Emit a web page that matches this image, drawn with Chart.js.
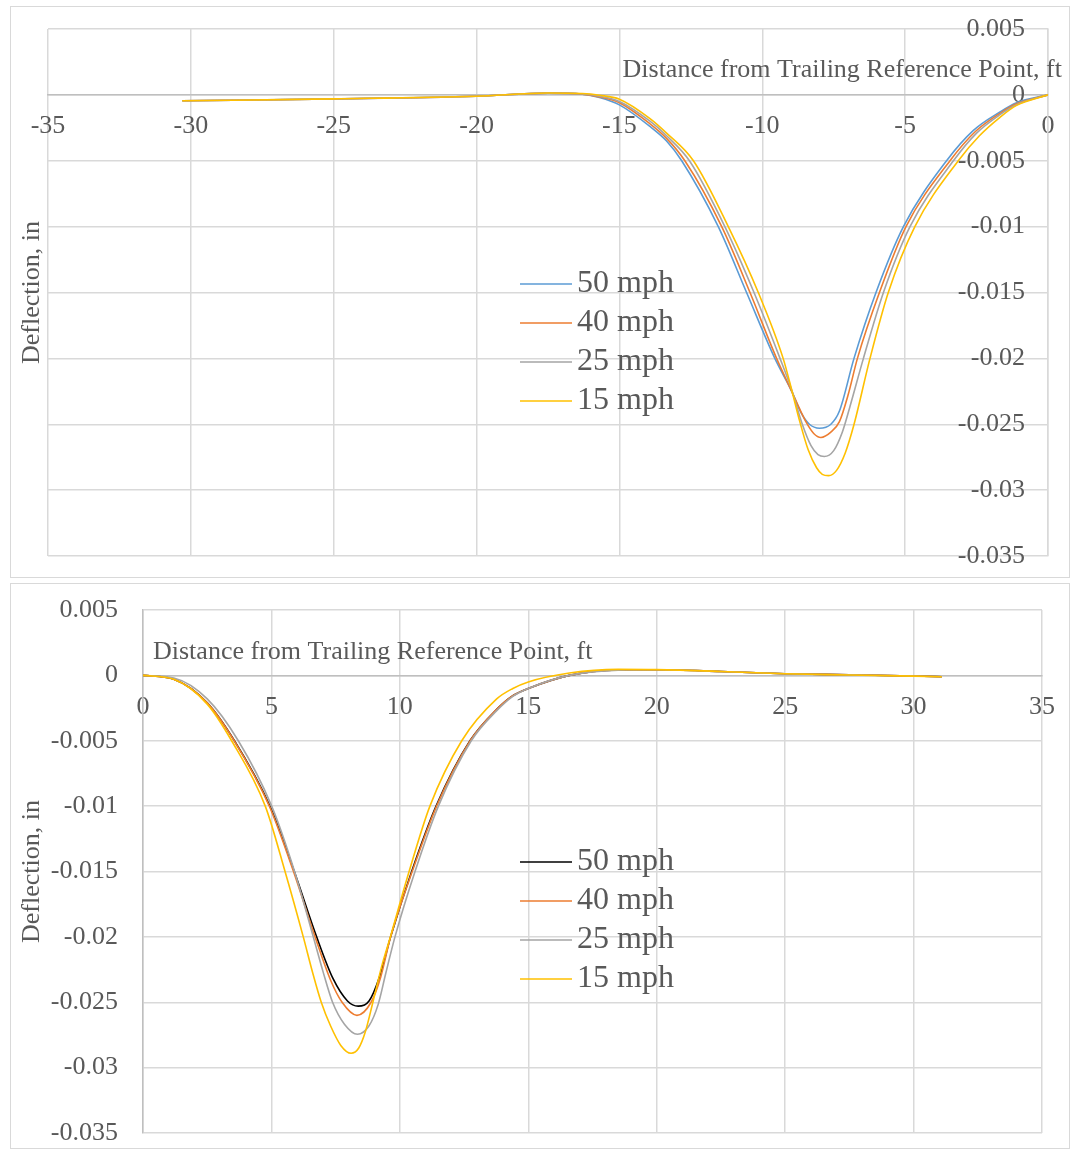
<!DOCTYPE html>
<html>
<head>
<meta charset="utf-8">
<script src="https://cdn.jsdelivr.net/npm/chart.js@4.4.1/dist/chart.umd.min.js"></script>
<style>
  html, body { margin: 0; padding: 0; background: #fff; overflow: hidden; }
  .frame { position: absolute; left: 10px; width: 1058px; border: 1px solid #d9d9d9; }
  #topFrame { top: 6px; height: 570px; }
  #bottomFrame { top: 583px; height: 564px; }
</style>
</head>
<body>
<div class="frame" id="topFrame"><canvas id="top"></canvas></div>
<div class="frame" id="bottomFrame"><canvas id="bottom"></canvas></div>
<script>
const xTitle = 'Distance from Trailing Reference Point, ft';
const yTitle = 'Deflection, in';
const speeds = ['50 mph', '40 mph', '25 mph', '15 mph'];
const topColors = ['#5B9BD5', '#ED7D31', '#A5A5A5', '#FFC000'];
const bottomColors = ['#000000', '#ED7D31', '#A5A5A5', '#FFC000'];
const topXTicks = [-35, -30, -25, -20, -15, -10, -5, 0];
const bottomXTicks = [0, 5, 10, 15, 20, 25, 30, 35];
const yTicks = [0.005, 0, -0.005, -0.01, -0.015, -0.02, -0.025, -0.03, -0.035];

// upper chart: [distance ft, deflection in]
const top50 = [[-30.3,-0.00045],[-25,-0.00031],[-20,-0.0001],[-17.5,0.00013],[-16.3,0.00005],[-15.7,-0.0002],[-15,-0.00076],[-13.93,-0.0024],[-13.35,-0.0035],[-12.82,-0.005],[-11.54,-0.01],[-10.55,-0.015],[-9.56,-0.02],[-8.97,-0.0225],[-8.65,-0.0241],[-8.35,-0.025],[-8.0,-0.0253],[-7.6,-0.025],[-7.3,-0.024],[-6.79,-0.02],[-6.02,-0.015],[-5.06,-0.01],[-3.55,-0.005],[-2.61,-0.0027],[-1.68,-0.0013],[-1.1,-0.0006],[0,0]];
const top40 = [[-30.3,-0.00045],[-25,-0.00031],[-20,-0.0001],[-17.5,0.00013],[-16.3,0.00006],[-15.7,-0.00015],[-15,-0.0006],[-13.93,-0.0022],[-13.35,-0.0033],[-12.71,-0.005],[-11.42,-0.01],[-10.43,-0.015],[-9.5,-0.02],[-8.97,-0.0225],[-8.7,-0.0238],[-8.45,-0.0249],[-8.2,-0.0257],[-7.95,-0.026],[-7.6,-0.0256],[-7.3,-0.0248],[-7.0,-0.0228],[-6.67,-0.02],[-5.9,-0.015],[-4.97,-0.01],[-3.43,-0.005],[-2.55,-0.0028],[-1.68,-0.0014],[-1.1,-0.00068],[0,0]];
const top25 = [[-30.3,-0.00045],[-25,-0.0003],[-20,-0.0001],[-17.5,0.00013],[-16.3,0.00007],[-15.7,-0.0001],[-15,-0.0005],[-13.93,-0.002],[-13.35,-0.0031],[-12.55,-0.005],[-11.31,-0.01],[-10.29,-0.015],[-9.38,-0.02],[-8.97,-0.0224],[-8.6,-0.025],[-8.3,-0.0266],[-8.05,-0.0273],[-7.83,-0.02745],[-7.5,-0.027],[-7.2,-0.0256],[-6.95,-0.0238],[-6.46,-0.02],[-5.76,-0.015],[-4.83,-0.01],[-3.31,-0.005],[-2.5,-0.0029],[-1.68,-0.0015],[-1.1,-0.00075],[0,0]];
const top15 = [[-30.3,-0.00045],[-25,-0.0003],[-20,-0.0001],[-17.5,0.00014],[-16.3,0.0001],[-15.7,-0.00003],[-15,-0.00033],[-13.93,-0.0018],[-13.35,-0.0029],[-12.41,-0.005],[-11.19,-0.01],[-10.14,-0.015],[-9.27,-0.02],[-8.97,-0.0224],[-8.7,-0.0247],[-8.4,-0.0269],[-8.1,-0.0283],[-7.9,-0.0288],[-7.68,-0.0289],[-7.4,-0.0285],[-7.1,-0.0272],[-6.8,-0.0251],[-6.23,-0.02],[-5.59,-0.015],[-4.66,-0.01],[-3.14,-0.005],[-2.4,-0.0031],[-1.68,-0.0017],[-1.1,-0.0008],[0,0]];

// lower chart
const bot50 = [[0,0],[1.2,-0.0003],[2.5,-0.0021],[3.56,-0.005],[4.94,-0.01],[5.89,-0.015],[6.76,-0.02],[7.4,-0.0232],[7.96,-0.0249],[8.38,-0.0253],[8.8,-0.0249],[9.2,-0.0231],[9.64,-0.02],[10.46,-0.015],[11.41,-0.01],[12.73,-0.005],[13.77,-0.0026],[14.4,-0.00155],[15,-0.001],[16.6,0],[18.5,0.00042],[20,0.00043],[22.5,0.0003],[25,0.00013],[27.5,0.00005],[30,-0.00005],[31.1,-0.0001]];
const bot40 = [[0,0],[1.2,-0.0003],[2.5,-0.0021],[3.55,-0.005],[4.92,-0.01],[5.86,-0.015],[6.7,-0.02],[7.3,-0.0233],[7.75,-0.025],[8.33,-0.026],[8.88,-0.025],[9.25,-0.0231],[9.64,-0.02],[10.48,-0.015],[11.43,-0.01],[12.74,-0.005],[13.77,-0.0026],[14.4,-0.00155],[15,-0.001],[16.6,0],[18.5,0.00042],[20,0.00043],[22.5,0.0003],[25,0.00013],[27.5,0.00005],[30,-0.00005],[31.1,-0.0001]];
const bot25 = [[0,0],[1.2,-0.0002],[2.5,-0.0018],[3.71,-0.005],[5.01,-0.01],[5.9,-0.015],[6.63,-0.02],[7.0,-0.0226],[7.38,-0.025],[7.85,-0.0267],[8.35,-0.02745],[8.8,-0.0268],[9.15,-0.0252],[9.45,-0.0228],[9.81,-0.02],[10.59,-0.015],[11.5,-0.01],[12.78,-0.005],[13.77,-0.0027],[14.4,-0.0016],[15,-0.001],[16.6,0],[18.5,0.0004],[20,0.00043],[22.5,0.0003],[25,0.00013],[27.5,0.00004],[30,-0.00005],[31.1,-0.0001]];
const bot15 = [[0,0],[1.2,-0.0003],[2.5,-0.0022],[3.45,-0.005],[4.76,-0.01],[5.53,-0.015],[6.24,-0.02],[6.6,-0.0227],[6.94,-0.025],[7.3,-0.0268],[7.7,-0.0283],[8.1,-0.0289],[8.4,-0.0285],[8.65,-0.0273],[8.95,-0.025],[9.3,-0.0222],[9.63,-0.02],[10.36,-0.015],[11.17,-0.01],[12.41,-0.005],[13.77,-0.0018],[14.4,-0.001],[15,-0.0005],[16.6,0.00018],[18.5,0.00046],[20,0.00044],[22.5,0.0003],[25,0.00012],[27.5,0.00003],[30,-0.00006],[31.1,-0.0001]];

Chart.defaults.font.family = '"Liberation Serif", "Times New Roman", serif';
Chart.defaults.font.size = 26;
Chart.defaults.color = '#595959';

// axis titles and legend sit inside the plot, like the Excel original
const decor = {
  id: 'decor',
  afterDraw(chart, args, o) {
    const { ctx, chartArea: a } = chart;
    const y0 = chart.scales.y.getPixelForValue(0);
    ctx.save();
    ctx.fillStyle = '#595959';
    ctx.textBaseline = 'middle';
    ctx.font = '26px "Liberation Serif"';
    ctx.textAlign = o.xTitleAlign;
    ctx.fillText(xTitle, o.xTitleX, y0 - o.xTitleRise);

    ctx.save();
    ctx.translate(o.yTitleX, (a.top + a.bottom) / 2);
    ctx.rotate(-Math.PI / 2);
    ctx.textAlign = 'center';
    ctx.fillText(yTitle, 0, 0);
    ctx.restore();

    ctx.font = '32px "Liberation Serif"';
    ctx.textAlign = 'left';
    chart.data.datasets.forEach((ds, i) => {
      const y = o.legendY + i * 39;
      ctx.strokeStyle = ds.borderColor;
      ctx.lineWidth = 1.5;
      ctx.beginPath();
      ctx.moveTo(o.legendX, y);
      ctx.lineTo(o.legendX + 52, y);
      ctx.stroke();
      ctx.fillText(ds.label, o.legendX + 57, y);
    });
    ctx.restore();
  }
};

function makeChart(id, series, colors, xTicks, xMin, xMax, yAxis, padding, decorOpts) {
  return new Chart(document.getElementById(id), {
    type: 'line',
    data: {
      datasets: series.map((s, i) => ({
        label: speeds[i],
        data: s.map(([x, y]) => ({ x, y })),
        borderColor: colors[i],
        borderWidth: 1.6,
        pointRadius: 0,
        cubicInterpolationMode: 'monotone',
        order: series.length - i
      }))
    },
    options: {
      responsive: true,
      maintainAspectRatio: false,
      animation: false,
      layout: { padding },
      plugins: { legend: { display: false }, tooltip: { enabled: false }, decor: decorOpts },
      scales: {
        x: {
          type: 'linear',
          min: xMin,
          max: xMax,
          position: { y: 0 },
          afterBuildTicks: s => { s.ticks = xTicks.map(v => ({ value: v })); },
          afterFit: s => { s.paddingLeft = 0; s.paddingRight = 0; },
          ticks: { autoSkip: false, maxRotation: 0, padding: 16 },
          grid: { color: '#d9d9d9', lineWidth: 1.5, drawTicks: false },
          border: { color: '#bfbfbf', width: 1.5 }
        },
        y: Object.assign({
          type: 'linear',
          min: -0.035,
          max: 0.005,
          afterBuildTicks: s => { s.ticks = yTicks.map(v => ({ value: v })); },
          grid: { color: '#d9d9d9', lineWidth: 1.5, drawTicks: false }
        }, yAxis)
      }
    },
    plugins: [decor]
  });
}

makeChart('top', [top50, top40, top25, top15], topColors, topXTicks, -35, 0, {
  position: 'right',
  afterFit: s => { s.width = 21; s.paddingTop = 0; s.paddingBottom = 0; },
  ticks: { mirror: true, padding: -23, autoSkip: false, callback: v => String(v) },
  border: { color: '#d9d9d9', width: 1.5 }
}, { top: 22, bottom: 21, left: 37, right: 0 },
{ xTitleAlign: 'right', xTitleX: 1051, xTitleRise: 25, yTitleX: 21, legendX: 509, legendY: 277 });

makeChart('bottom', [bot50, bot40, bot25, bot15], bottomColors, bottomXTicks, 0, 35, {
  position: 'left',
  afterFit: s => { s.width = 132; s.paddingTop = 0; s.paddingBottom = 0; },
  ticks: { padding: 25, autoSkip: false, callback: v => String(v) },
  border: { color: '#bfbfbf', width: 1.5 }
}, { top: 26, bottom: 15, left: 0, right: 27 },
{ xTitleAlign: 'left', xTitleX: 142, xTitleRise: 23, yTitleX: 21, legendX: 509, legendY: 278 });
</script>
</body>
</html>
